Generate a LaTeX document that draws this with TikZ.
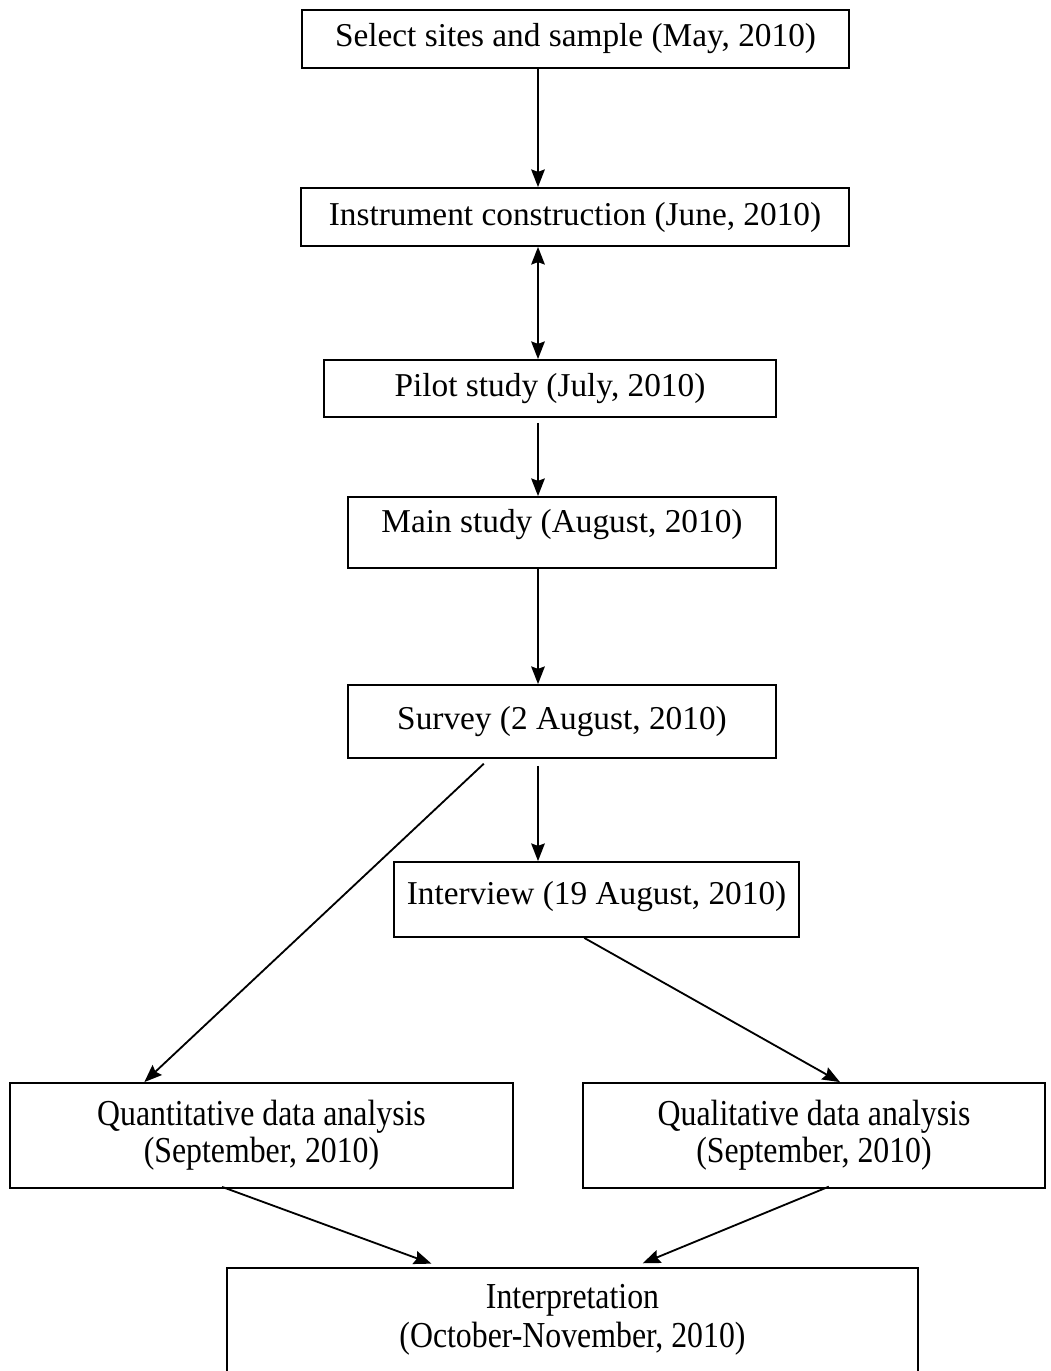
\documentclass[tikz,border=0pt]{standalone}
\usepackage{fontspec}
\setmainfont{Liberation Serif}
\newfontfamily\narrowserif[FakeStretch=0.87]{Liberation Serif}
\usetikzlibrary{arrows.meta, calc}

\begin{document}
\begin{tikzpicture}[
    x=0.025cm, y=-0.025cm,
    >={Stealth[length=0.44cm, width=0.34cm, inset=0.06cm]},
    box/.style={rectangle, draw, line width=1.3pt, inner sep=2pt, font=\fontsize{23.7}{28}\selectfont},
    widebox/.style={box, align=center, font=\narrowserif\fontsize{26}{26.3}\selectfont},
    arrow/.style={->, line width=1.3pt}
  ]
    \useasboundingbox (0,0) rectangle (1050,1371);
    \coordinate (spine) at (538,0);
    \node[box, minimum width=13.675cm, minimum height=1.45cm] (sel) at (575.5,39) {Select sites and sample (May, 2010)};
    \node[box, minimum width=13.7cm, minimum height=1.45cm] (ins) at (575,217) {Instrument construction (June, 2010)};
    \node[box, minimum width=11.3cm, minimum height=1.425cm] (pil) at (550,388.5) {Pilot study (July, 2010)};
    \node[box, minimum width=10.7cm, minimum height=1.775cm, text depth=0.6cm] (mai) at (562,532.5) {Main study (August, 2010)};
    \node[box, minimum width=10.7cm, minimum height=1.825cm] (sur) at (562,721.5) {Survey (2 August, 2010)};
    \node[box, minimum width=10.125cm, minimum height=1.875cm, text depth=0.35cm] (int) at (596.5,899.5) {Interview (19 August, 2010)};
    \node[widebox, minimum width=12.575cm, minimum height=2.625cm] (qua) at (261.5,1135.5) {Quantitative data analysis\\(September, 2010)};
    \node[widebox, minimum width=11.55cm, minimum height=2.625cm] (qul) at (814,1135.5) {Qualitative data analysis\\(September, 2010)};
    \node[widebox, minimum width=17.275cm, minimum height=3.3cm, text depth=0.9cm, font=\narrowserif\fontsize{26}{27.7}\selectfont] (itp) at (572.5,1334) {Interpretation\\(October-November, 2010)};
    \draw[arrow] (sel.south -| spine) -- (ins.north -| spine);
    \draw[arrow, <->] (ins.south -| spine) -- (pil.north -| spine);
    \draw[arrow, shorten <=0.125cm] (pil.south -| spine) -- (mai.north -| spine);
    \draw[arrow] (mai.south -| spine) -- (sur.north -| spine);
    \draw[arrow, shorten <=0.175cm] (sur.south -| spine) -- (int.north -| spine);
    \draw[arrow, shorten <=0.175cm] ($(sur.south west)!0.33!(sur.south east)$) -- ($(qua.north west)!0.268!(qua.north east)$);
    \draw[arrow] ($(int.south west)!0.47!(int.south east)$) -- ($(qul.north west)!0.556!(qul.north east)$);
    \draw[arrow, shorten <=-0.15cm, shorten >=0.25cm] ($(qua.south west)!0.433!(qua.south east)$) -- ($(itp.north west)!0.31!(itp.north east)$);
    \draw[arrow, shorten <=-0.15cm, shorten >=0.25cm] ($(qul.south west)!0.52!(qul.south east)$) -- ($(itp.north west)!0.588!(itp.north east)$);
  \end{tikzpicture}
\end{document}
